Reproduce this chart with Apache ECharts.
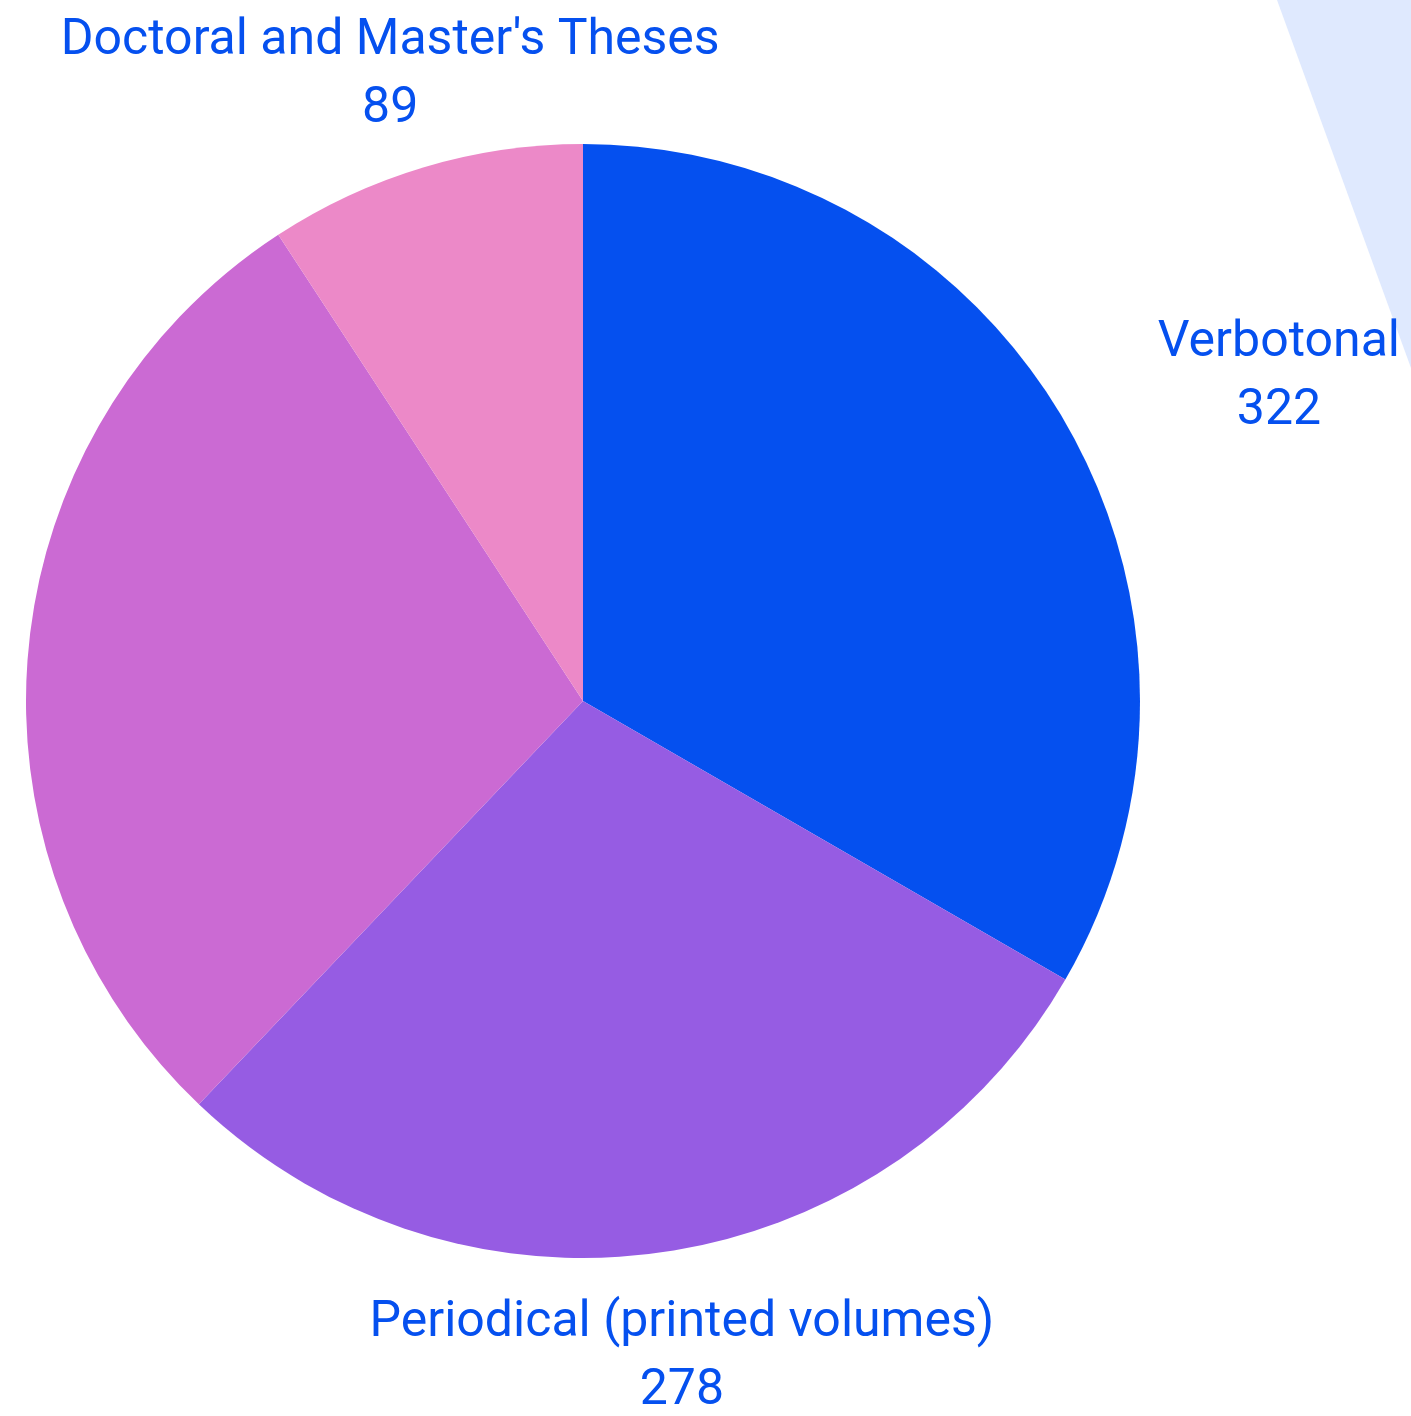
<!DOCTYPE html>
<html>
<head>
<meta charset="utf-8">
<script src="https://cdn.jsdelivr.net/npm/echarts@6/dist/echarts.min.js"></script>
<style>
  html, body { margin: 0; padding: 0; background: #fff; }
  #chart { width: 1411px; height: 1416px; }
</style>
</head>
<body>
<div id="chart"></div>
<script>
// collection categories and item counts
const categories = ['Verbotonal', 'Periodical (printed volumes)', 'Monographs', "Doctoral and Master's Theses"];
const counts = [322, 278, 277, 89];
const sliceColors = ['#0550ef', '#965ce3', '#cb6ad3', '#ec89c8'];

const chart = echarts.init(document.getElementById('chart'));
const cx = 583, cy = 701;

chart.setOption({
  backgroundColor: '#fff',
  animation: false,
  graphic: [{
    // pale decoration in the top right corner
    type: 'polygon',
    z: -10,
    shape: { points: [[1277, 0], [1411, 0], [1411, 368]] },
    style: { fill: '#dfe9fe' }
  }],
  series: [{
    type: 'pie',
    center: [cx, cy],
    radius: 557,
    startAngle: 90,
    clockwise: true,
    avoidLabelOverlap: false,
    data: categories.map((name, i) => ({
      name: name,
      value: counts[i],
      itemStyle: { color: sliceColors[i] }
    })),
    label: {
      show: true,
      position: 'outside',
      formatter: '{b}\n{c}',
      color: '#0550ef',
      fontFamily: 'Roboto',
      fontSize: 50,
      lineHeight: 68
    },
    labelLine: { show: false, length: 101, length2: 0 },
    labelLayout: function (p) {
      const r = p.labelRect;
      const ax = p.align === 'right' ? r.x + r.width : r.x;
      // labels near the vertical axis are centred on their anchor,
      // the others keep their side but centre their lines
      if (Math.abs(ax - cx) < 300) {
        return { x: ax, dy: 5, align: 'center' };
      }
      return { x: r.x + r.width / 2, dy: 5, align: 'center' };
    }
  }]
});
</script>
</body>
</html>
